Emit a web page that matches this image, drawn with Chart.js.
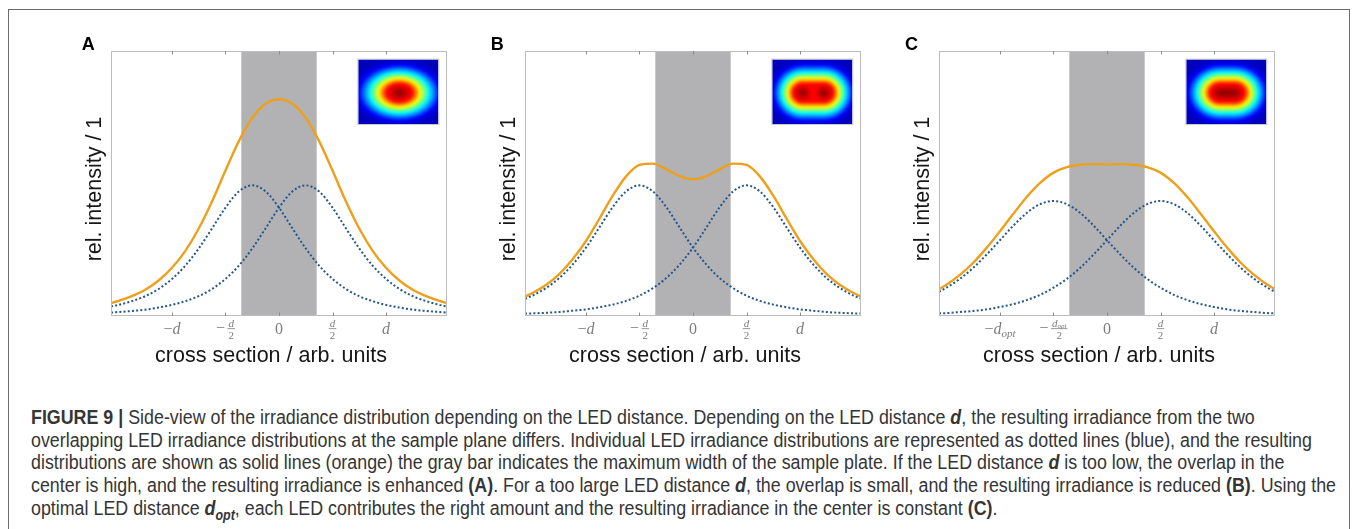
<!DOCTYPE html>
<html>
<head>
<meta charset="utf-8">
<script src="https://cdn.jsdelivr.net/npm/chart.js@4.4.1/dist/chart.umd.min.js"></script>
<style>
  html, body { margin: 0; padding: 0; background: #fff; }
  body { width: 1357px; height: 529px; position: relative; overflow: hidden; }
  #frame { position: absolute; left: 8px; top: 9px; width: 1342px; height: 560px; border: 1px solid #6b6b6b; box-sizing: border-box; }
  canvas { position: absolute; top: 20px; }
  #caption {
    position: absolute; left: 31px; top: 406px;
    font-family: "Liberation Sans", Arial, sans-serif;
    font-size: 20px; line-height: 22.7px; color: #353535; white-space: nowrap;
    transform-origin: 0 0;
  }
  #caption sub { font-size: 70%; line-height: 0; }
</style>
</head>
<body>
<div id="frame"></div>
<canvas id="chartA" width="393" height="360" style="left:60px"></canvas>
<canvas id="chartB" width="393" height="360" style="left:474px"></canvas>
<canvas id="chartC" width="393" height="360" style="left:888px"></canvas>
<div id="caption"><b>FIGURE 9 |</b> Side-view of the irradiance distribution depending on the LED distance. Depending on the LED distance <b><i>d</i></b>, the resulting irradiance from the two<br>overlapping LED irradiance distributions at the sample plane differs. Individual LED irradiance distributions are represented as dotted lines (blue), and the resulting<br>distributions are shown as solid lines (orange) the gray bar indicates the maximum width of the sample plate. If the LED distance <b><i>d</i></b> is too low, the overlap in the<br><span id="longLine">center is high, and the resulting irradiance is enhanced <b>(A)</b>. For a too large LED distance <b><i>d</i></b>, the overlap is small, and the resulting irradiance is reduced <b>(B)</b>. Using the</span><br>optimal LED distance <b><i>d<sub>opt</sub></i></b>, each LED contributes the right amount and the resulting irradiance in the center is constant <b>(C)</b>.</div>

<script>
// cross-section positions in units of d
const xs = [-1.57, -1.5, -1.375, -1.25, -1.125, -1, -0.875, -0.75, -0.625, -0.5, -0.375, -0.25, -0.125, 0,
  0.125, 0.25, 0.375, 0.5, 0.625, 0.75, 0.875, 1, 1.125, 1.25, 1.375, 1.5, 1.57];

// A: LEDs too close
const ledLeftA  = [0.036, 0.042, 0.056, 0.075, 0.102, 0.140, 0.190, 0.255, 0.331, 0.409, 0.470, 0.493, 0.470, 0.409,
  0.331, 0.255, 0.190, 0.140, 0.102, 0.075, 0.056, 0.042, 0.032, 0.024, 0.019, 0.015, 0.013];
const ledRightA = [0.013, 0.015, 0.019, 0.024, 0.032, 0.042, 0.056, 0.075, 0.102, 0.140, 0.190, 0.255, 0.331, 0.409,
  0.470, 0.493, 0.470, 0.409, 0.331, 0.255, 0.190, 0.140, 0.102, 0.075, 0.056, 0.042, 0.036];
const totalA    = [0.049, 0.057, 0.075, 0.099, 0.134, 0.182, 0.246, 0.330, 0.433, 0.549, 0.660, 0.748, 0.801, 0.818,
  0.801, 0.748, 0.660, 0.549, 0.433, 0.330, 0.246, 0.182, 0.134, 0.099, 0.075, 0.057, 0.049];

// B: LEDs too far apart
const ledLeftB  = [0.065, 0.077, 0.105, 0.143, 0.194, 0.258, 0.334, 0.411, 0.470, 0.493, 0.470, 0.411, 0.334, 0.258,
  0.194, 0.143, 0.105, 0.077, 0.057, 0.043, 0.033, 0.025, 0.020, 0.015, 0.012, 0.010, 0.009];
const ledRightB = [0.009, 0.010, 0.012, 0.015, 0.020, 0.025, 0.033, 0.043, 0.057, 0.077, 0.105, 0.143, 0.194, 0.258,
  0.334, 0.411, 0.470, 0.493, 0.470, 0.411, 0.334, 0.258, 0.194, 0.143, 0.105, 0.077, 0.065];
const totalB    = [0.074, 0.087, 0.117, 0.158, 0.214, 0.283, 0.367, 0.454, 0.527, 0.570, 0.575, 0.554, 0.528, 0.516,
  0.528, 0.554, 0.575, 0.570, 0.527, 0.454, 0.367, 0.283, 0.214, 0.158, 0.117, 0.087, 0.074];

// C: optimal distance
const ledLeftC  = [0.091, 0.107, 0.140, 0.182, 0.232, 0.286, 0.341, 0.389, 0.422, 0.434, 0.422, 0.389, 0.341, 0.286,
  0.232, 0.182, 0.140, 0.107, 0.080, 0.060, 0.045, 0.034, 0.025, 0.019, 0.015, 0.011, 0.010];
const ledRightC = [0.010, 0.011, 0.015, 0.019, 0.025, 0.034, 0.045, 0.060, 0.080, 0.107, 0.140, 0.182, 0.232, 0.286,
  0.341, 0.389, 0.422, 0.434, 0.422, 0.389, 0.341, 0.286, 0.232, 0.182, 0.140, 0.107, 0.091];
const totalC    = [0.101, 0.118, 0.155, 0.201, 0.257, 0.320, 0.386, 0.449, 0.502, 0.541, 0.562, 0.571, 0.573, 0.572,
  0.573, 0.571, 0.562, 0.541, 0.502, 0.449, 0.386, 0.320, 0.257, 0.201, 0.155, 0.118, 0.101];

const tickValues = [-1, -0.5, 0, 0.5, 1];
const tickLabelsAB = ['−d', '−d/2', '0', 'd/2', 'd'];
const tickLabelsC = ['−d_opt', '−d_opt/2', '0', 'd/2', 'd'];

// half width of the sample plate (gray bar)
const plateHalfWidth = 0.352;

const serif = '"Liberation Serif", "DejaVu Serif", serif';
const sans = '"Liberation Sans", Arial, sans-serif';

function jet(v) {
  const c = (t) => Math.round(Math.min(Math.max(t, 0), 1) * 255);
  const r = Math.min(4 * v - 1.5, -4 * v + 4.5);
  const g = Math.min(4 * v - 0.5, -4 * v + 3.5);
  const b = Math.min(4 * v + 0.5, -4 * v + 2.5);
  return `rgb(${c(r)},${c(g)},${c(b)})`;
}

function lerpRadius(anchors, v) {
  for (let i = 1; i < anchors.length; i++) {
    const [v0, r0] = anchors[i - 1], [v1, r1] = anchors[i];
    if (v <= v1) return r0 + (r1 - r0) * (v - v0) / (v1 - v0);
  }
  return 0;
}

// small false-colour top view of the irradiance spot
function drawInset(ctx, box, spec) {
  const pad = 20;
  const off = document.createElement('canvas');
  off.width = box.w + 2 * pad;
  off.height = box.h + 2 * pad;
  const o = off.getContext('2d');
  o.fillStyle = jet(0.06);
  o.fillRect(0, 0, off.width, off.height);
  const cx = pad + box.w / 2 + 1, cy = pad + box.h / 2 + 1;
  for (let v = 0.07; v < 1; v += 0.015) {
    const ry = lerpRadius(spec.rad, v);
    const rx = ry * spec.aspect;
    o.fillStyle = jet(v);
    o.beginPath();
    o.ellipse(cx - spec.sep, cy, rx, ry, 0, 0, Math.PI * 2);
    o.moveTo(cx + spec.sep + rx, cy);
    o.ellipse(cx + spec.sep, cy, rx, ry, 0, 0, Math.PI * 2);
    if (!(spec.split && v > spec.split)) o.rect(cx - spec.sep, cy - ry, 2 * spec.sep, 2 * ry);
    o.fill();
  }
  ctx.save();
  ctx.beginPath();
  ctx.rect(box.x, box.y, box.w, box.h);
  ctx.clip();
  ctx.filter = 'blur(1.2px)';
  ctx.drawImage(off, box.x - pad, box.y - pad);
  ctx.restore();
  ctx.save();
  ctx.strokeStyle = '#c9c9c9';
  ctx.lineWidth = 1;
  ctx.strokeRect(box.x - 0.5, box.y - 0.5, box.w + 1, box.h + 1);
  ctx.restore();
}

// LaTeX-like tick labels: '−d', '−d/2', '0', 'd_opt', ...
function drawTickLabel(ctx, label, cx, top) {
  const minus = label.startsWith('−');
  let body = minus ? label.slice(1) : label;
  const frac = body.endsWith('/2');
  if (frac) body = body.slice(0, -2);
  const [sym, sub] = body.split('_');
  const symFont = (sym === '0' ? '' : 'italic ') + '16px ' + serif;
  const fracFont = 'italic 11px ' + serif, subFont = 'italic 7px ' + serif, twoFont = '11px ' + serif;
  const parts = [];
  if (minus) {
    ctx.font = '16px ' + serif;
    parts.push({ w: ctx.measureText('−').width + (frac ? 2.5 : 0), draw: (x) => {
      ctx.font = '16px ' + serif;
      ctx.fillText('−', x, frac ? top + 17 : top + 18);
    }});
  }
  if (frac) {
    ctx.font = fracFont;
    const nw = ctx.measureText(sym).width;
    let sw = 0;
    if (sub) { ctx.font = subFont; sw = ctx.measureText(sub).width; }
    ctx.font = twoFont;
    const dw = ctx.measureText('2').width;
    const w = Math.max(nw + sw, dw) + 2;
    parts.push({ w, draw: (x) => {
      const mid = x + w / 2;
      ctx.font = fracFont;
      ctx.fillText(sym, mid - (nw + sw) / 2, top + 10.7);
      if (sub) { ctx.font = subFont; ctx.fillText(sub, mid - (nw + sw) / 2 + nw, top + 12); }
      ctx.fillRect(x, top + 12.3, w, 0.8);
      ctx.font = twoFont;
      ctx.fillText('2', mid - dw / 2, top + 22.5);
    }});
  } else {
    ctx.font = symFont;
    const nw = ctx.measureText(sym).width;
    let sw = 0;
    if (sub) { ctx.font = 'italic 11px ' + serif; sw = ctx.measureText(sub).width; }
    parts.push({ w: nw + sw, draw: (x) => {
      ctx.font = symFont;
      ctx.fillText(sym, x, top + 18);
      if (sub) { ctx.font = 'italic 11px ' + serif; ctx.fillText(sub, x + nw, top + 21); }
    }});
  }
  const total = parts.reduce((s, p) => s + p.w, 0);
  let x = cx - total / 2;
  for (const p of parts) { p.draw(x); x += p.w; }
}

const figurePlugin = {
  id: 'figure',
  beforeDatasetsDraw(chart) {
    const { ctx, chartArea: a, scales: { x } } = chart;
    const l = x.getPixelForValue(-plateHalfWidth), r = x.getPixelForValue(plateHalfWidth);
    ctx.save();
    ctx.fillStyle = '#b2b2b4';
    ctx.fillRect(l, a.top, r - l, a.bottom - a.top);
    ctx.restore();
  },
  afterDatasetsDraw(chart, args, opts) {
    const { ctx, chartArea: a, scales: { x } } = chart;
    ctx.save();
    // axes box
    ctx.strokeStyle = '#bdbdbd';
    ctx.lineWidth = 1;
    ctx.strokeRect(a.left + 0.5, a.top + 0.5, a.right - a.left - 1, a.bottom - a.top - 1);
    // inward ticks, bottom and top
    ctx.strokeStyle = '#8e8e8e';
    ctx.beginPath();
    tickValues.forEach((v) => {
      const px = Math.round(x.getPixelForValue(v)) + 0.5;
      ctx.moveTo(px, a.bottom); ctx.lineTo(px, a.bottom - 3.5);
      ctx.moveTo(px, a.top); ctx.lineTo(px, a.top + 3.5);
    });
    ctx.stroke();
    // tick labels
    ctx.fillStyle = '#7d7d7d';
    ctx.textBaseline = 'alphabetic';
    ctx.textAlign = 'left';
    tickValues.forEach((v, i) => drawTickLabel(ctx, opts.tickLabels[i], x.getPixelForValue(v), a.bottom));
    // axis titles
    ctx.fillStyle = '#161616';
    ctx.font = '21.5px ' + sans;
    ctx.textAlign = 'center';
    ctx.fillText('cross section / arb. units', (a.left + a.right) / 2 - 8, a.bottom + 45.5);
    ctx.save();
    ctx.translate(a.left - 10.5, (a.top + a.bottom) / 2 + 5.5);
    ctx.rotate(-Math.PI / 2);
    ctx.fillText('rel. intensity / 1', 0, 0);
    ctx.restore();
    // panel letter
    ctx.fillStyle = '#000';
    ctx.textAlign = 'left';
    ctx.font = 'bold 18px ' + sans;
    ctx.fillText(opts.letter, a.left + opts.letterDx, a.top - 1);
    ctx.restore();
    drawInset(ctx, { x: a.right - 88.7, y: a.top + 8.6, w: 80, h: 64.4 }, opts.inset);
  }
};

function points(ys) {
  return xs.map((x, i) => ({ x, y: ys[i] }));
}

function makePanel(id, letter, letterDx, ledLeft, ledRight, total, tickLabels, inset) {
  const dotted = { borderColor: '#23568f', borderWidth: 2, borderDash: [2, 2.2], pointRadius: 0,
    cubicInterpolationMode: 'monotone', fill: false, order: 1 };
  return new Chart(document.getElementById(id).getContext('2d'), {
    type: 'line',
    data: {
      datasets: [
        Object.assign({ label: 'LED 1', data: points(ledLeft) }, dotted),
        Object.assign({ label: 'LED 2', data: points(ledRight) }, dotted),
        { label: 'sum', data: points(total), borderColor: '#eda01b', borderWidth: 2.4, pointRadius: 0,
          cubicInterpolationMode: 'monotone', fill: false, order: 2 }
      ]
    },
    options: {
      responsive: false,
      animation: false,
      layout: { padding: { top: 31, left: 0, right: 6, bottom: 0 } },
      plugins: {
        legend: { display: false },
        tooltip: { enabled: false },
        figure: { letter, letterDx, tickLabels, inset }
      },
      scales: {
        x: {
          type: 'linear', min: -1.57, max: 1.57,
          grid: { display: false }, border: { display: false }, ticks: { display: false },
          afterFit: (s) => { s.height = 64; }
        },
        y: {
          min: 0, max: 1,
          grid: { display: false }, border: { display: false }, ticks: { display: false },
          afterFit: (s) => { s.width = 51; }
        }
      }
    },
    plugins: [figurePlugin]
  });
}

const spotRadius = [[0.06, 34], [0.125, 28], [0.375, 20.5], [0.625, 14.5], [0.875, 9], [1, 0]];

makePanel('chartA', 'A', -29.3, ledLeftA, ledRightA, totalA, tickLabelsAB,
  { sep: 0, aspect: 1.45, rad: spotRadius });
makePanel('chartB', 'B', -34.3, ledLeftB, ledRightB, totalB, tickLabelsAB,
  { sep: 10.5, aspect: 1.05, split: 0.885, rad: spotRadius });
makePanel('chartC', 'C', -34, ledLeftC, ledRightC, totalC, tickLabelsC,
  { sep: 7, aspect: 1.15, rad: spotRadius });

// squeeze the caption so its longest line fills the column
const caption = document.getElementById('caption');
const longest = document.getElementById('longLine').getBoundingClientRect().width;
caption.style.transform = `scaleX(${1305 / longest})`;
</script>
</body>
</html>
